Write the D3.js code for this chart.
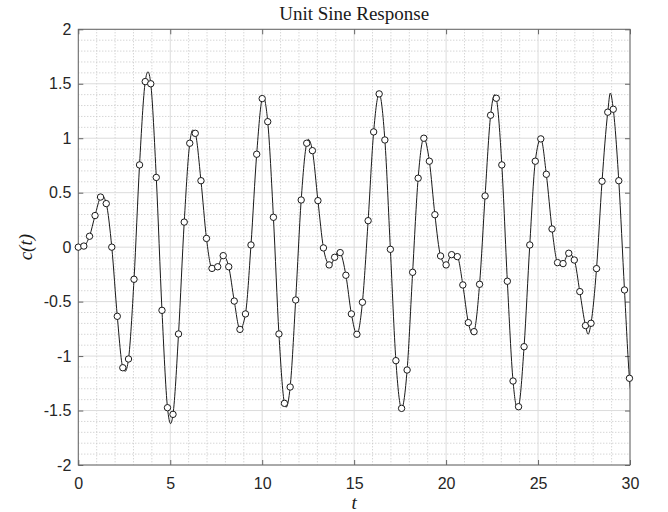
<!DOCTYPE html>
<html>
<head>
<meta charset="utf-8">
<script src="https://cdn.jsdelivr.net/npm/d3@7/dist/d3.min.js"></script>
<style>
  body { margin: 0; background: #fff; }
  .tick text { font-family: 'Liberation Sans', Arial, sans-serif; font-size: 16px; fill: #262626; }
  .lbl { font-family: 'Liberation Serif', 'DejaVu Serif', serif; fill: #1a1a1a; }
</style>
</head>
<body>
<div id="chart"></div>
<script>
// sample times of the circle markers (s)
let timeMarks = [
  0, 0.30, 0.61, 0.91, 1.21, 1.52, 1.82, 2.12, 2.42, 2.73,
  3.03, 3.33, 3.64, 3.94, 4.24, 4.55, 4.85, 5.15, 5.45, 5.76,
  6.06, 6.36, 6.67, 6.97, 7.27, 7.58, 7.88, 8.18, 8.48, 8.79,
  9.09, 9.39, 9.70, 10.00, 10.30, 10.61, 10.91, 11.21, 11.52, 11.82,
  12.12, 12.42, 12.73, 13.03, 13.33, 13.64, 13.94, 14.24, 14.55, 14.85,
  15.15, 15.45, 15.76, 16.06, 16.36, 16.67, 16.97, 17.27, 17.58, 17.88,
  18.18, 18.48, 18.79, 19.09, 19.39, 19.70, 20.00, 20.30, 20.61, 20.91,
  21.21, 21.52, 21.82, 22.12, 22.42, 22.73, 23.03, 23.33, 23.64, 23.94,
  24.24, 24.55, 24.85, 25.15, 25.45, 25.76, 26.06, 26.36, 26.67, 26.97,
  27.27, 27.58, 27.88, 28.18, 28.48, 28.79, 29.09, 29.39, 29.70, 29.97
]

// c(t) at the markers
let respMarks = [
  0.00, 0.01, 0.10, 0.29, 0.46, 0.40, 0.00, -0.635, -1.107, -1.027,
  -0.295, 0.755, 1.52, 1.50, 0.64, -0.58, -1.474, -1.535, -0.797, 0.23,
  0.954, 1.045, 0.61, 0.08, -0.195, -0.18, -0.078, -0.18, -0.495, -0.755,
  -0.613, 0.02, 0.853, 1.364, 1.152, 0.274, -0.797, -1.434, -1.284, -0.485,
  0.433, 0.954, 0.886, 0.427, -0.007, -0.163, -0.093, -0.05, -0.258, -0.613,
  -0.80, -0.506, 0.243, 1.058, 1.407, 0.984, -0.02, -1.042, -1.48, -1.128,
  -0.231, 0.633, 1.0, 0.789, 0.298, -0.081, -0.163, -0.069, -0.087, -0.347,
  -0.693, -0.776, -0.341, 0.47, 1.211, 1.367, 0.755, -0.313, -1.229, -1.465,
  -0.914, 0.02, 0.789, 0.994, 0.669, 0.167, -0.142, -0.151, -0.056, -0.118,
  -0.408, -0.72, -0.699, -0.197, 0.605, 1.239, 1.266, 0.61, -0.393, -1.204
]

// extra points of the continuous curve (peaks between markers, end)
let peakTimes = [1.29, 2.55, 3.79, 5.02, 6.22, 7.43, 10.06, 11.30, 12.50, 13.70,
  14.14, 21.42, 22.64, 23.87, 26.21, 27.72, 28.93, 30.08]
let peakValues = [0.475, -1.14, 1.61, -1.62, 1.075, -0.20, 1.38, -1.47, 0.99, -0.17,
  -0.04, -0.795, 1.40, -1.48, -0.16, -0.80, 1.415, -1.40]

let xTicks = [0, 5, 10, 15, 20, 25, 30]
let yTicks = [-2, -1.5, -1, -0.5, 0, 0.5, 1, 1.5, 2]

let margin = { top: 29.3, left: 78.3, right: 38, bottom: 47 }
let width = 668 - margin.left - margin.right
let height = 512 - margin.top - margin.bottom

let svg = d3
  .select('#chart')
  .append('svg')
  .attr('width', 668)
  .attr('height', 512)
  .append('g')
  .attr('transform', 'translate(' + margin.left + ',' + margin.top + ')')

let x = d3.scaleLinear().domain([0, 30]).range([0, width])
let y = d3.scaleLinear().domain([-2, 2]).range([height, 0])

// minor grid (dotted)
svg.append('g')
  .selectAll('line')
  .data(x.ticks(30).filter(d => xTicks.indexOf(d) < 0))
  .enter()
  .append('line')
  .attr('x1', d => x(d)).attr('x2', d => x(d))
  .attr('y1', 0).attr('y2', height)
  .attr('stroke', '#c4c4c4')
  .attr('stroke-dasharray', '1,2')

svg.append('g')
  .selectAll('line')
  .data(y.ticks(40).filter(d => !yTicks.some(t => Math.abs(t - d) < 1e-9)))
  .enter()
  .append('line')
  .attr('x1', 0).attr('x2', width)
  .attr('y1', d => y(d)).attr('y2', d => y(d))
  .attr('stroke', '#c4c4c4')
  .attr('stroke-dasharray', '1,2')

// major grid
svg.append('g')
  .selectAll('line')
  .data(xTicks)
  .enter()
  .append('line')
  .attr('x1', d => x(d)).attr('x2', d => x(d))
  .attr('y1', 0).attr('y2', height)
  .attr('stroke', '#dcdcdc')

svg.append('g')
  .selectAll('line')
  .data(yTicks)
  .enter()
  .append('line')
  .attr('x1', 0).attr('x2', width)
  .attr('y1', d => y(d)).attr('y2', d => y(d))
  .attr('stroke', '#dcdcdc')

// axes, ticks pointing inward on all four sides
let fmt = d => String(d)

let bottomAxis = svg.append('g')
  .attr('transform', 'translate(0,' + height + ')')
  .call(d3.axisBottom(x).tickValues(xTicks).tickFormat(fmt).tickSizeInner(-5).tickSizeOuter(0).tickPadding(13))
let leftAxis = svg.append('g')
  .call(d3.axisLeft(y).tickValues(yTicks).tickFormat(fmt).tickSizeInner(-5).tickSizeOuter(0).tickPadding(7))
let topAxis = svg.append('g')
  .call(d3.axisTop(x).tickValues(xTicks).tickFormat('').tickSizeInner(-5).tickSizeOuter(0))
let rightAxis = svg.append('g')
  .attr('transform', 'translate(' + width + ',0)')
  .call(d3.axisRight(y).tickValues(yTicks).tickFormat('').tickSizeInner(-5).tickSizeOuter(0))

svg.selectAll('.domain').remove()
svg.selectAll('.tick line').attr('stroke', '#666')

svg.append('rect')
  .attr('width', width)
  .attr('height', height)
  .attr('fill', 'none')
  .attr('stroke', '#666')

// the continuous response
let linePoints = timeMarks.map((t, i) => [t, respMarks[i]])
  .concat(peakTimes.map((t, i) => [t, peakValues[i]]))
  .sort((a, b) => a[0] - b[0])

svg.append('clipPath')
  .attr('id', 'plot-clip')
  .append('rect')
  .attr('width', width)
  .attr('height', height)

let line = d3.line()
  .x(d => x(d[0]))
  .y(d => y(d[1]))
  .curve(d3.curveMonotoneX)

svg.append('path')
  .datum(linePoints)
  .attr('clip-path', 'url(#plot-clip)')
  .attr('d', line)
  .attr('fill', 'none')
  .attr('stroke', '#1a1a1a')
  .attr('stroke-width', 1)

// sampled markers
svg.selectAll('.mark')
  .data(timeMarks)
  .enter()
  .append('circle')
  .attr('class', 'mark')
  .attr('cx', d => x(d))
  .attr('cy', (d, i) => y(respMarks[i]))
  .attr('r', 3.2)
  .attr('fill', '#fff')
  .attr('stroke', '#1a1a1a')
  .attr('stroke-width', 1)

// labels
svg.append('text')
  .attr('class', 'lbl')
  .attr('x', width / 2)
  .attr('y', 20 - margin.top)
  .attr('text-anchor', 'middle')
  .attr('font-size', 19)
  .text('Unit Sine Response')

svg.append('text')
  .attr('class', 'lbl')
  .attr('x', width / 2)
  .attr('y', 509 - margin.top)
  .attr('text-anchor', 'middle')
  .attr('font-size', 19)
  .attr('font-style', 'italic')
  .text('t')

svg.append('text')
  .attr('class', 'lbl')
  .attr('transform', 'translate(' + (32 - margin.left) + ',' + (height / 2) + ')rotate(-90)')
  .attr('text-anchor', 'middle')
  .attr('font-size', 19)
  .attr('font-style', 'italic')
  .text('c(t)')
</script>
</body>
</html>
